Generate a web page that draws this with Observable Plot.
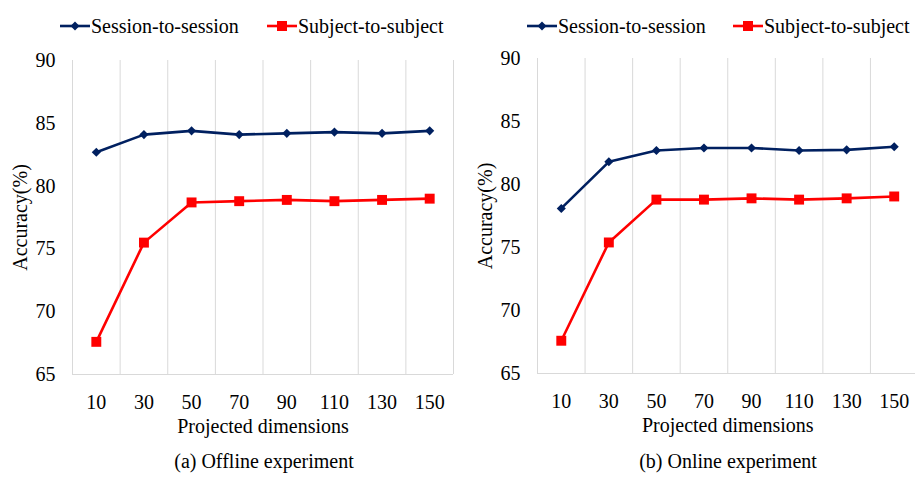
<!DOCTYPE html>
<html><head><meta charset="utf-8">
<script src="https://cdn.jsdelivr.net/npm/d3@7"></script>
<script src="https://cdn.jsdelivr.net/npm/@observablehq/plot@0.6"></script>
<style>
body{margin:0;background:#fff;}
#wrap{position:relative;width:915px;height:479px;overflow:hidden;font-family:"Liberation Serif","Times New Roman",serif;color:#000;}
.panel{position:absolute;top:0;height:440px;}
#wrap svg, #wrap svg text{font-family:"Liberation Serif","Times New Roman",serif !important;}
.panel > svg{max-width:none !important;}
.legend{position:absolute;top:13px;height:26px;display:flex;align-items:center;font-size:20px;white-space:nowrap;}
.legend .item{position:absolute;display:flex;align-items:center;}
.legend svg{display:block;}
.caption{position:absolute;font-size:20px;white-space:nowrap;transform:translateX(-50%);top:450px;}
</style></head><body><div id="wrap"></div>
<script>
// ---- data ----
const dims = [10, 30, 50, 70, 90, 110, 130, 150];
const seriesNames = ["Session-to-session", "Subject-to-subject"];
const offlineSession = [82.7, 84.1, 84.4, 84.1, 84.2, 84.3, 84.2, 84.4];
const offlineSubject = [67.6, 75.5, 78.7, 78.8, 78.9, 78.8, 78.9, 79.0];
const onlineSession  = [78.1, 81.8, 82.7, 82.9, 82.9, 82.7, 82.75, 83.0];
const onlineSubject  = [67.6, 75.4, 78.8, 78.8, 78.9, 78.8, 78.9, 79.05];
const yTicks = [65, 70, 75, 80, 85, 90];
const gridBounds = [0, 20, 40, 60, 80, 100, 120, 140, 160];
const captions = ["(a) Offline experiment", "(b) Online experiment"];

const navy = "#002060", red = "#ff0000", grid = "#d9d9d9";
const wrap = document.getElementById("wrap");

function makePanel({session, subject, left, width, mt, mb, ml, mr, caption, captionX, legendX}) {
  const sData = dims.map((d, i) => ({dim: d, acc: session[i]}));
  const uData = dims.map((d, i) => ({dim: d, acc: subject[i]}));
  const chart = Plot.plot({
    width, height: 440,
    marginTop: mt, marginBottom: mb, marginLeft: ml, marginRight: mr,
    style: {fontFamily: "Liberation Serif, Times New Roman, serif", fontSize: "20px", color: "#000", background: "transparent", overflow: "visible", maxWidth: "none"},
    x: {type: "linear", domain: [0, 160]},
    y: {domain: [65, 90]},
    marks: [
      Plot.ruleX(gridBounds, {y1: 65, y2: 90, stroke: grid, strokeWidth: 1}),
      Plot.ruleY([65], {stroke: grid, strokeWidth: 1}),
      Plot.axisX(dims, {tickSize: 0, tickPadding: 20, label: "Projected dimensions", labelArrow: "none", labelAnchor: "center", labelOffset: 58, fill: "#000"}),
      Plot.axisY(yTicks, {tickSize: 0, tickPadding: 17, label: "Accuracy(%)", labelArrow: "none", labelAnchor: "center", labelOffset: 60, fill: "#000"}),
      Plot.line(sData, {x: "dim", y: "acc", stroke: navy, strokeWidth: 2.6}),
      Plot.line(uData, {x: "dim", y: "acc", stroke: red, strokeWidth: 2.6}),
      Plot.dot(sData, {x: "dim", y: "acc", symbol: "diamond2", r: 4.1, fill: navy, stroke: "none"}),
      Plot.dot(uData, {x: "dim", y: "acc", symbol: "square", r: 5.6, fill: red, stroke: "none"})
    ]
  });
  const panel = document.createElement("div");
  panel.className = "panel";
  panel.style.left = left + "px";
  panel.style.width = width + "px";
  panel.appendChild(chart);
  wrap.appendChild(panel);

  // legend
  const leg = document.createElement("div");
  leg.className = "legend";
  leg.style.left = "0px";
  const items = [
    {name: seriesNames[0], color: navy, shape: "diamond"},
    {name: seriesNames[1], color: red, shape: "square"}
  ];
  items.forEach((it, k) => {
    const el = document.createElement("div");
    el.className = "item";
    el.style.left = legendX[k] + "px";
    const marker = it.shape === "diamond"
      ? `<path d="M15,8.5 L19.5,13 L15,17.5 L10.5,13 Z" fill="${it.color}"/>`
      : `<rect x="10" y="8" width="10" height="10" fill="${it.color}"/>`;
    el.innerHTML = `<svg width="30" height="26"><line x1="0" x2="30" y1="13" y2="13" stroke="${it.color}" stroke-width="2.6"/>${marker}</svg><span style="margin-left:1px">${it.name}</span>`;
    leg.appendChild(el);
  });
  wrap.appendChild(leg);

  const cap = document.createElement("div");
  cap.className = "caption";
  cap.style.left = captionX + "px";
  cap.textContent = caption;
  wrap.appendChild(cap);
}

makePanel({session: offlineSession, subject: offlineSubject, left: 0, width: 457, mt: 60, mb: 66, ml: 72, mr: 4,
  caption: captions[0], captionX: 264, legendX: [60, 267]});
makePanel({session: onlineSession, subject: onlineSubject, left: 460, width: 460, mt: 58, mb: 67, ml: 77, mr: 2.5,
  caption: captions[1], captionX: 728, legendX: [527, 733]});
</script>
</body></html>
